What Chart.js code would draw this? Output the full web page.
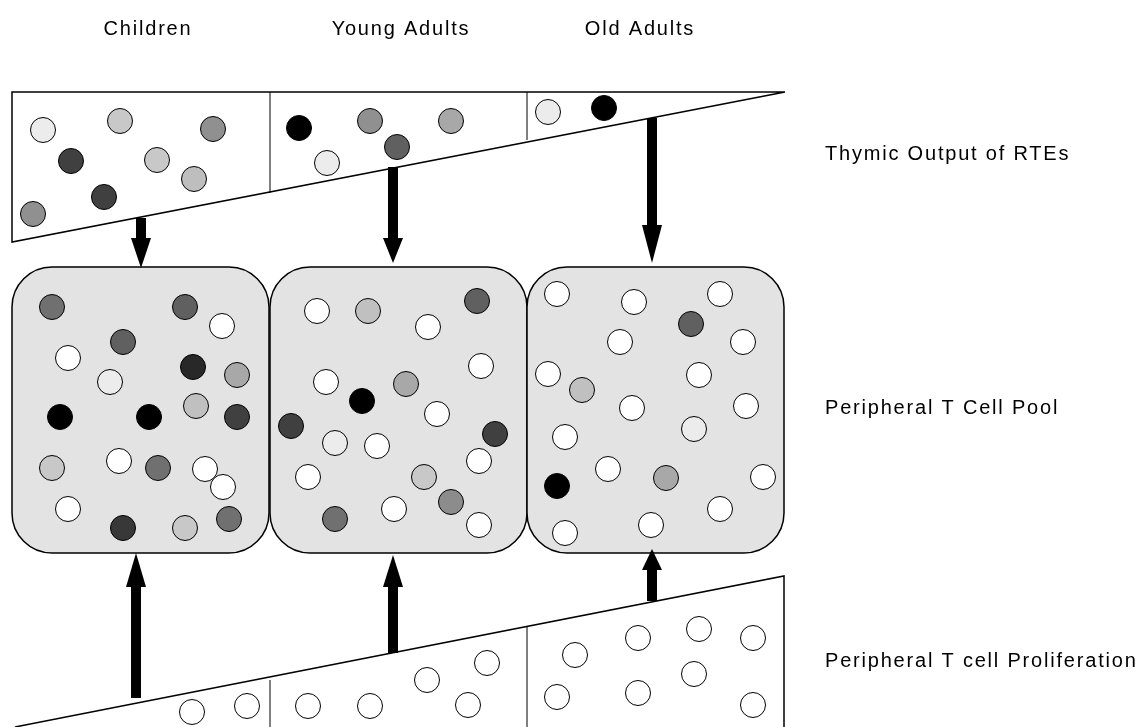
<!DOCTYPE html>
<html>
<head>
<meta charset="utf-8">
<script src="https://cdn.jsdelivr.net/npm/chart.js@4"></script>
<style>
  html, body { margin: 0; padding: 0; background: #fff; }
  #wrap { width: 1146px; height: 727px; }
</style>
</head>
<body>
<div id="wrap"><canvas id="diagram" width="1146" height="727"></canvas></div>
<script>
// Age groups (column headings) and row labels
const ageGroups = ['Children', 'Young Adults', 'Old Adults'];
const groupCenters = [148, 401, 640];
const headingBaseline = 35;
const rowLabels = ['Thymic Output of RTEs', 'Peripheral T Cell Pool', 'Peripheral T cell Proliferation'];
const rowLabelY = [160, 414, 667];

// Cells: [x, y, grey level] in diagram units
const thymicCells = [
  [43, 130, 236], [120, 121, 200], [213, 129, 144], [71, 161, 64], [157, 160, 200],
  [194, 179, 190], [104, 197, 64], [33, 214, 144],
  [299, 128, 0], [370, 121, 144], [327, 163, 236], [397, 147, 96], [451, 121, 168],
  [548, 112, 236], [604, 108, 0]
];
const poolCells = [
  [52, 307, 112], [185, 307, 96], [222, 326, 255], [123, 342, 96], [68, 358, 255],
  [193, 367, 40], [237, 375, 168], [110, 382, 236], [196, 406, 192], [60, 417, 0],
  [149, 417, 0], [237, 417, 64], [52, 468, 200], [119, 461, 255], [158, 468, 112],
  [205, 469, 255], [223, 487, 255], [68, 509, 255], [123, 528, 56], [185, 528, 200],
  [229, 519, 112],
  [317, 311, 255], [368, 311, 192], [477, 301, 96], [428, 327, 255], [481, 366, 255],
  [326, 382, 255], [406, 384, 168], [362, 401, 0], [437, 414, 255], [291, 426, 64],
  [495, 434, 64], [335, 443, 236], [377, 446, 255], [479, 461, 255], [308, 477, 255],
  [424, 477, 200], [451, 502, 140], [394, 509, 255], [335, 519, 112], [479, 525, 255],
  [557, 294, 255], [634, 302, 255], [720, 294, 255], [691, 324, 96], [620, 342, 255],
  [743, 342, 255], [548, 374, 255], [582, 390, 192], [699, 375, 255], [632, 408, 255],
  [746, 406, 255], [694, 429, 236], [565, 437, 255], [608, 469, 255], [666, 478, 168],
  [763, 477, 255], [557, 486, 0], [720, 509, 255], [565, 533, 255], [651, 525, 255]
];
const prolifCells = [
  [192, 712, 255], [247, 706, 255], [308, 706, 255], [370, 706, 255],
  [427, 680, 255], [487, 663, 255], [468, 705, 255],
  [575, 655, 255], [557, 697, 255], [638, 638, 255], [699, 629, 255], [753, 638, 255],
  [694, 674, 255], [638, 693, 255], [753, 705, 255]
];

// Compartment outlines
const thymicShape = [[12, 92], [785, 92], [12, 242]];
const thymicDividers = [[270, 92, 193], [527, 92, 140]];
const poolBoxes = [[12, 269], [270, 527], [527, 784]];
const poolTop = 267, poolBottom = 553, poolRadius = 40;
const prolifShape = [[15, 727], [784, 576], [784, 727]];
const prolifDividers = [[270, 680, 727], [527, 626, 727]];

// Arrows: [x, tail y, head base y, tip y]
const downArrows = [[141, 218, 238, 268], [393, 167, 238, 263], [652, 118, 225, 263]];
const upArrows = [[136, 698, 587, 553], [393, 653, 587, 555], [652, 601, 570, 549]];

function grey(v) { return 'rgb(' + v + ',' + v + ',' + v + ')'; }

function cellDataset(cells) {
  return {
    data: cells.map(c => ({ x: c[0], y: c[1] })),
    pointRadius: 12.5,
    pointHoverRadius: 12.5,
    pointBackgroundColor: cells.map(c => grey(c[2])),
    pointBorderColor: '#000',
    pointBorderWidth: 1,
    showLine: false
  };
}

const shapesPlugin = {
  id: 'shapes',
  beforeDatasetsDraw(chart) {
    const ctx = chart.ctx;
    const sx = chart.scales.x, sy = chart.scales.y;
    const X = v => sx.getPixelForValue(v);
    const Y = v => sy.getPixelForValue(v);
    ctx.save();
    ctx.lineWidth = 1.5;
    ctx.strokeStyle = '#000';

    // thymic wedge
    ctx.beginPath();
    thymicShape.forEach((p, i) => i ? ctx.lineTo(X(p[0]), Y(p[1])) : ctx.moveTo(X(p[0]), Y(p[1])));
    ctx.closePath();
    ctx.fillStyle = '#fff';
    ctx.fill();
    ctx.stroke();
    ctx.lineWidth = 1;
    thymicDividers.forEach(d => {
      ctx.beginPath(); ctx.moveTo(X(d[0]), Y(d[1])); ctx.lineTo(X(d[0]), Y(d[2])); ctx.stroke();
    });

    // pool boxes
    ctx.lineWidth = 1.5;
    poolBoxes.forEach(b => {
      const x0 = X(b[0]), x1 = X(b[1]), y0 = Y(poolTop), y1 = Y(poolBottom);
      ctx.beginPath();
      ctx.roundRect(x0, y0, x1 - x0, y1 - y0, poolRadius);
      ctx.fillStyle = '#e3e3e3';
      ctx.fill();
      ctx.stroke();
    });

    // proliferation wedge
    ctx.beginPath();
    prolifShape.forEach((p, i) => i ? ctx.lineTo(X(p[0]), Y(p[1])) : ctx.moveTo(X(p[0]), Y(p[1])));
    ctx.fillStyle = '#fff';
    ctx.fill();
    ctx.stroke();
    ctx.lineWidth = 1;
    prolifDividers.forEach(d => {
      ctx.beginPath(); ctx.moveTo(X(d[0]), Y(d[1])); ctx.lineTo(X(d[0]), Y(d[2])); ctx.stroke();
    });

    // arrows
    ctx.fillStyle = '#000';
    downArrows.concat(upArrows).forEach(a => {
      const x = X(a[0]), t = Y(a[1]), b = Y(a[2]), tip = Y(a[3]);
      ctx.fillRect(x - 5, Math.min(t, b), 10, Math.abs(b - t));
      ctx.beginPath();
      ctx.moveTo(x - 10, b);
      ctx.lineTo(x + 10, b);
      ctx.lineTo(x, tip);
      ctx.closePath();
      ctx.fill();
    });
    ctx.restore();
  },
  afterDraw(chart) {
    const ctx = chart.ctx;
    const sx = chart.scales.x, sy = chart.scales.y;
    ctx.save();
    ctx.fillStyle = '#000';
    ctx.font = '20px "Liberation Sans", Arial, sans-serif';
    ctx.letterSpacing = '1.8px';
    ctx.textBaseline = 'alphabetic';
    ctx.textAlign = 'center';
    ageGroups.forEach((g, i) => ctx.fillText(g, sx.getPixelForValue(groupCenters[i]), sy.getPixelForValue(headingBaseline)));
    ctx.textAlign = 'left';
    rowLabels.forEach((r, i) => ctx.fillText(r, sx.getPixelForValue(825), sy.getPixelForValue(rowLabelY[i])));
    ctx.restore();
  }
};

new Chart(document.getElementById('diagram'), {
  type: 'scatter',
  data: {
    datasets: [cellDataset(thymicCells), cellDataset(poolCells), cellDataset(prolifCells)]
  },
  options: {
    responsive: false,
    animation: false,
    layout: { padding: 0, autoPadding: false },
    plugins: { legend: { display: false }, tooltip: { enabled: false } },
    scales: {
      x: { type: 'linear', min: 0, max: 1146, display: false },
      y: { type: 'linear', min: 0, max: 727, reverse: true, display: false }
    }
  },
  plugins: [shapesPlugin]
});
</script>
</body>
</html>
